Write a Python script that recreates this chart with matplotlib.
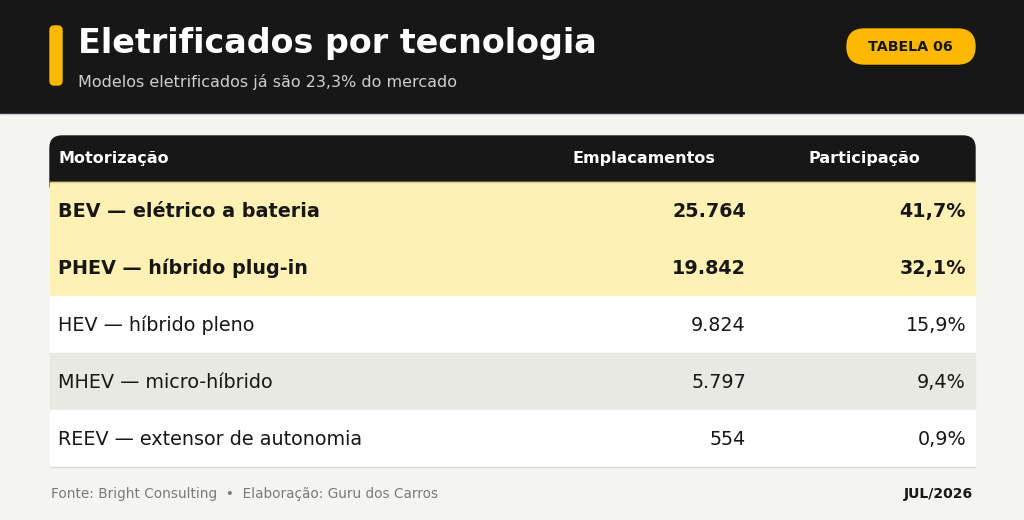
import matplotlib
matplotlib.use("Agg")
import matplotlib.pyplot as plt
from matplotlib.patches import Rectangle, FancyBboxPatch

plt.rcParams["font.family"] = ["DejaVu Sans"]

titulo = "Eletrificados por tecnologia"
subtitulo = "Modelos eletrificados já são 23,3% do mercado"
selo = "TABELA 06"
colunas = ["Motorização", "Emplacamentos", "Participação"]
motorizacao = [
    "BEV — elétrico a bateria",
    "PHEV — híbrido plug-in",
    "HEV — híbrido pleno",
    "MHEV — micro-híbrido",
    "REEV — extensor de autonomia",
]
emplacamentos = [25764, 19842, 9824, 5797, 554]
participacao = [41.7, 32.1, 15.9, 9.4, 0.9]
destaque = [True, True, False, False, False]
fonte = "Fonte: Bright Consulting  •  Elaboração: Guru dos Carros"
data_ref = "JUL/2026"

ESCURO = "#171717"
FUNDO = "#f4f4f0"
AMARELO = "#ffb800"
AMARELO_CLARO = "#fff1b3"
CINZA_LINHA = "#e9e9e3"


def fmt_int(v):
    return f"{v:,}".replace(",", ".")


def fmt_pct(v):
    return f"{v:.1f}%".replace(".", ",")


fig = plt.figure(figsize=(10.24, 5.2), dpi=100)
fig.patch.set_facecolor(FUNDO)
ax = fig.add_axes([0, 0, 1, 1])
ax.set_xlim(0, 1024)
ax.set_ylim(520, 0)
ax.axis("off")

# cabeçalho
ax.add_patch(Rectangle((0, 0), 1024, 113, color=ESCURO, zorder=1))
ax.plot([0, 1024], [113.5, 113.5], color="#cfcfcf", lw=1, zorder=2)
ax.add_patch(FancyBboxPatch((50, 26), 12, 59, boxstyle="round,pad=0,rounding_size=4",
                            color=AMARELO, zorder=2))
ax.text(78, 44, titulo, color="white", fontsize=24, fontweight="bold", va="center", zorder=3)
ax.text(78, 82, subtitulo, color="#cfcfcf", fontsize=11.5, va="center", zorder=3)
ax.add_patch(FancyBboxPatch((847, 29), 128, 35, boxstyle="round,pad=0,rounding_size=17.5",
                            color=AMARELO, zorder=2))
ax.text(910, 47, selo, color=ESCURO, fontsize=10.3, fontweight="bold",
        ha="center", va="center", zorder=3)

# tabela
x0, x1 = 50, 975
topo, alt_cab, alt_linha = 136, 46, 57
ax.add_patch(FancyBboxPatch((x0, topo), x1 - x0, alt_cab + 14,
                            boxstyle="round,pad=0,rounding_size=12", color=ESCURO, zorder=1))
cab_y = topo + alt_cab / 2
ax.text(58, cab_y, colunas[0], color="white", fontsize=11.5, fontweight="bold", va="center", zorder=3)
ax.text(573, cab_y, colunas[1], color="white", fontsize=11.5, fontweight="bold", va="center", zorder=3)
ax.text(808, cab_y, colunas[2], color="white", fontsize=11.5, fontweight="bold", va="center", zorder=3)

y = topo + alt_cab
for i, nome in enumerate(motorizacao):
    if destaque[i]:
        cor = AMARELO_CLARO
    elif i % 2 == 1:
        cor = CINZA_LINHA
    else:
        cor = "white"
    ax.add_patch(Rectangle((x0, y), x1 - x0, alt_linha, color=cor, zorder=2))
    peso = "bold" if destaque[i] else "normal"
    yc = y + alt_linha / 2 + 1
    ax.text(58, yc, nome, color=ESCURO, fontsize=13.75, fontweight=peso, va="center", zorder=3)
    ax.text(746, yc, fmt_int(emplacamentos[i]), color=ESCURO, fontsize=13.75, fontweight=peso,
            ha="right", va="center", zorder=3)
    ax.text(966, yc, fmt_pct(participacao[i]), color=ESCURO, fontsize=13.75, fontweight=peso,
            ha="right", va="center", zorder=3)
    y += alt_linha

ax.plot([x0, x1], [topo + alt_cab, topo + alt_cab], color="#d9c98a", lw=1, zorder=4)
ax.plot([x0, x1], [y, y], color="#d8d8d2", lw=1, zorder=4)

# rodapé
ax.text(51, 494, fonte, color="#7a7a7a", fontsize=9.8, va="center")
ax.text(973, 494, data_ref, color=ESCURO, fontsize=10, fontweight="bold", ha="right", va="center")

fig.savefig("out.png", dpi=100, facecolor=FUNDO)
